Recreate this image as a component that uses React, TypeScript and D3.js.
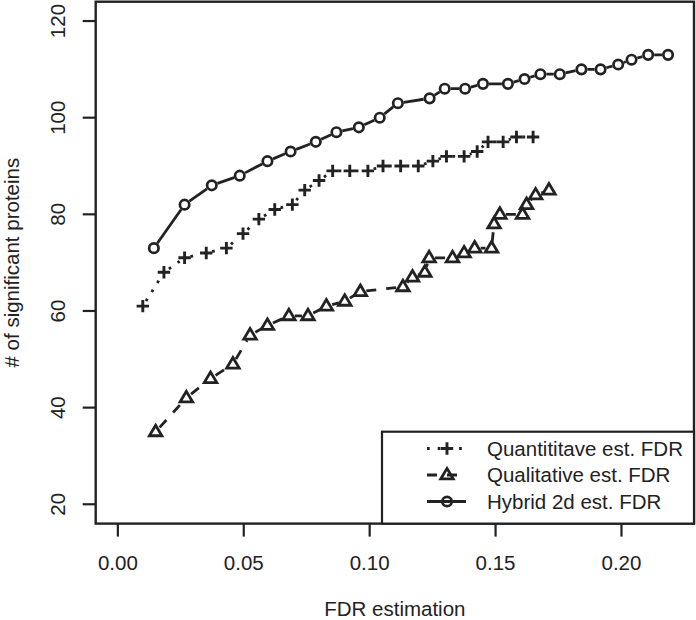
import React from "react";
import * as d3 from "d3";

const quantX = [0.0099,0.0183,0.0265,0.0351,0.0431,0.0497,0.0560,0.0623,0.0693,0.0742,0.0799,0.0853,0.0921,0.0993,0.1053,0.1123,0.1193,0.1251,0.1305,0.1375,0.1427,0.1470,0.1530,0.1583,0.1649];
const quantY = [61,68,71,72,73,76,79,81,82,85,87,89,89,89,90,90,90,91,92,92,93,95,95,96,96];

const qualX = [0.0150,0.0272,0.0368,0.0457,0.0525,0.0594,0.0679,0.0755,0.0828,0.0901,0.0963,0.1132,0.1170,0.1219,0.1236,0.1329,0.1375,0.1417,0.1484,0.1494,0.1517,0.1607,0.1623,0.1659,0.1712];
const qualY = [35,42,46,49,55,57,59,59,61,62,64,65,67,68,71,71,72,73,73,78,80,80,82,84,85];

const hybridX = [0.0143,0.0265,0.0373,0.0484,0.0594,0.0686,0.0786,0.0868,0.0957,0.1040,0.1112,0.1238,0.1298,0.1379,0.1450,0.1549,0.1615,0.1678,0.1755,0.1841,0.1917,0.1987,0.2040,0.2106,0.2185];
const hybridY = [73,82,86,88,91,93,95,97,98,100,103,104,106,106,107,107,108,109,109,110,110,111,112,113,113];

const xTicks = [0, 0.05, 0.1, 0.15, 0.2];
const yTicks = [20, 40, 60, 80, 100, 120];
const seriesNames = ["Quantititave est. FDR", "Qualitative est. FDR", "Hybrid 2d est. FDR"];

const W = 696, H = 620;
const INK = "#222";
const FONT = "'Liberation Sans', Arial, Helvetica, sans-serif";

const x = d3.scaleLinear().domain([-0.0088, 0.2288]).range([95.7, 694]);
const y = d3.scaleLinear().domain([16, 124]).range([523.6, 1.7]);

type Kind = "plus" | "tri" | "circle";

function Marker({ cx, cy, kind }: { cx: number; cy: number; kind: Kind }) {
  if (kind === "plus") {
    const a = 6.2;
    return (
      <path d={`M${cx - a},${cy}H${cx + a}M${cx},${cy - a}V${cy + a}`} stroke={INK} strokeWidth={2.9} fill="none" />
    );
  }
  if (kind === "tri") {
    const s = 6.6;
    const p = d3.path();
    p.moveTo(cx, cy - s);
    p.lineTo(cx + s * 0.95, cy + s * 0.6);
    p.lineTo(cx - s * 0.95, cy + s * 0.6);
    p.closePath();
    return <path d={p.toString()} stroke={INK} strokeWidth={2.8} fill="none" strokeLinejoin="miter" />;
  }
  return <circle cx={cx} cy={cy} r={4.7} stroke={INK} strokeWidth={2.7} fill="none" />;
}

function Series({ xs, ys, kind, dash }: { xs: number[]; ys: number[]; kind: Kind; dash?: string }) {
  const pts = xs.map((v, i) => [x(v), y(ys[i])] as [number, number]);
  const gap = 6;
  const segs: string[] = [];
  for (let i = 0; i < pts.length - 1; i++) {
    const [x1, y1] = pts[i];
    const [x2, y2] = pts[i + 1];
    const dx = x2 - x1, dy = y2 - y1;
    const d = Math.hypot(dx, dy);
    if (d <= 2 * gap) continue;
    const ux = dx / d, uy = dy / d;
    segs.push(`M${x1 + ux * gap},${y1 + uy * gap}L${x2 - ux * gap},${y2 - uy * gap}`);
  }
  return (
    <g>
      <path d={segs.join("")} stroke={INK} strokeWidth={2.8} fill="none" strokeDasharray={dash} strokeLinecap="butt" />
      {pts.map(([px, py], i) => (
        <Marker key={i} cx={px} cy={py} kind={kind} />
      ))}
    </g>
  );
}

export default function App() {
  const [x0, x1] = x.range();
  const [y0, y1] = y.range();
  const legendRows: { name: string; kind: Kind; dash?: string }[] = [
    { name: seriesNames[0], kind: "plus", dash: "2.7,8" },
    { name: seriesNames[1], kind: "tri", dash: "10,10" },
    { name: seriesNames[2], kind: "circle" },
  ];
  const legY = [448.5, 475, 501.5];
  return (
    <svg width={W} height={H} style={{ position: "absolute", left: 0, top: 0, background: "#fff" }} fontFamily={FONT}>
      <rect x={0} y={0} width={W} height={H} fill="#fff" />
      <rect x={x0} y={y1} width={x1 - x0} height={y0 - y1} fill="none" stroke={INK} strokeWidth={2.4} />
      {xTicks.map((t) => (
        <g key={t}>
          <line x1={x(t)} x2={x(t)} y1={y0} y2={y0 + 13} stroke={INK} strokeWidth={2.2} />
          <text x={x(t)} y={570} textAnchor="middle" fontSize={20.5} fill={INK}>
            {d3.format(".2f")(t)}
          </text>
        </g>
      ))}
      <text x={(x0 + x1) / 2} y={616} textAnchor="middle" fontSize={20.5} fill={INK}>
        FDR estimation
      </text>
      {yTicks.map((t) => (
        <g key={t}>
          <line x1={x0} x2={x0 - 13} y1={y(t)} y2={y(t)} stroke={INK} strokeWidth={2.2} />
          <text transform={`translate(65,${y(t)}) rotate(-90)`} textAnchor="middle" fontSize={20.5} fill={INK}>
            {t}
          </text>
        </g>
      ))}
      <text transform={`translate(19,${(y0 + y1) / 2}) rotate(-90)`} textAnchor="middle" fontSize={20.5} fill={INK}>
        # of significant proteins
      </text>

      <Series xs={quantX} ys={quantY} kind="plus" dash="2.7,8" />
      <Series xs={qualX} ys={qualY} kind="tri" dash="10,10" />
      <Series xs={hybridX} ys={hybridY} kind="circle" />

      <rect x={382} y={431.7} width={x1 - 382} height={y0 - 431.7} fill="#fff" stroke={INK} strokeWidth={2.2} />
      {legendRows.map((r, i) => (
        <g key={r.name}>
          <line x1={427} x2={466} y1={legY[i]} y2={legY[i]} stroke={INK} strokeWidth={2.8} strokeDasharray={r.dash} />
          <Marker cx={447} cy={legY[i]} kind={r.kind} />
          <text x={487} y={legY[i] + 7.3} fontSize={20.5} fill={INK}>
            {r.name}
          </text>
        </g>
      ))}
    </svg>
  );
}
